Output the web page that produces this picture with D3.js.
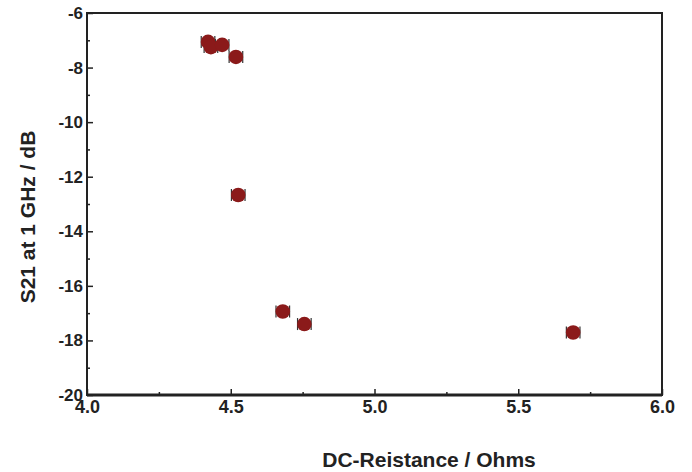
<!DOCTYPE html>
<html>
<head>
<meta charset="utf-8">
<script src="https://cdn.jsdelivr.net/npm/d3@7"></script>
<style>
  html, body { margin: 0; padding: 0; background: #fff; }
  svg { display: block; }
  text { font-family: "Liberation Sans", Arial, Helvetica, sans-serif; font-weight: bold; fill: #222; }
</style>
</head>
<body>
<svg id="chart" width="692" height="472"></svg>
<script>
const resistance = [4.421, 4.431, 4.470, 4.518, 4.526, 4.681, 4.756, 5.691];
const s21 = [-7.06, -7.25, -7.17, -7.61, -12.67, -16.94, -17.40, -17.71];
const xTicks = [4.0, 4.5, 5.0, 5.5, 6.0];
const xMinor = [4.25, 4.75, 5.25, 5.75];
const yTicks = [-6, -8, -10, -12, -14, -16, -18, -20];
const yMinor = [-7, -9, -11, -13, -15, -17, -19];
const xTitle = "DC-Reistance / Ohms";
const yTitle = "S21 at 1 GHz / dB";

const W = 692, H = 472;
const m = {left: 87, right: 30, top: 13, bottom: 77};
const svg = d3.select("#chart");
const x = d3.scaleLinear().domain([4, 6]).range([m.left, W - m.right]);
const y = d3.scaleLinear().domain([-20, -6]).range([H - m.bottom, m.top]);

const data = resistance.map((r, i) => ({r, s: s21[i]}));

// error-bar-like caps behind markers
const g = svg.append("g");
data.forEach(d => {
  [-6.8, 6.8].forEach(dx => {
    g.append("line")
      .attr("x1", x(d.r) + dx).attr("x2", x(d.r) + dx)
      .attr("y1", y(d.s) - 6).attr("y2", y(d.s) + 6)
      .attr("stroke", "#333").attr("stroke-width", 1.2);
  });
});
g.selectAll("circle").data(data).enter().append("circle")
  .attr("cx", d => x(d.r)).attr("cy", d => y(d.s)).attr("r", 7.3)
  .attr("fill", "#8b1a1a");

// axes
const xAxis = d3.axisBottom(x).tickValues(xTicks).tickSize(-6).tickPadding(5).tickFormat(d3.format(".1f"));
const xMinorAxis = d3.axisBottom(x).tickValues(xMinor).tickSize(-3).tickFormat("");
const yAxis = d3.axisLeft(y).tickValues(yTicks).tickSize(-6).tickPadding(4).tickFormat(d => d3.format("d")(d).replace("\u2212", "-"));
const yMinorAxis = d3.axisLeft(y).tickValues(yMinor).tickSize(-3).tickFormat("");

const gx = svg.append("g").attr("transform", `translate(0,${H - m.bottom})`).call(xAxis);
svg.append("g").attr("transform", `translate(0,${H - m.bottom})`).call(xMinorAxis);
const gy = svg.append("g").attr("transform", `translate(${m.left},0)`).call(yAxis);
svg.append("g").attr("transform", `translate(${m.left},0)`).call(yMinorAxis);

svg.selectAll(".domain").remove();
svg.selectAll(".tick line").attr("stroke", "#222").attr("stroke-width", 1.5);
gx.selectAll("text").style("font-size", "18px").attr("fill", "#222");
gy.selectAll("text").style("font-size", "17px").attr("fill", "#222");

// frame
svg.append("rect")
  .attr("x", m.left).attr("y", m.top)
  .attr("width", W - m.left - m.right).attr("height", H - m.top - m.bottom)
  .attr("fill", "none").attr("stroke", "#222").attr("stroke-width", 2);
svg.append("line")
  .attr("x1", m.left).attr("x2", W - m.right)
  .attr("y1", H - m.bottom).attr("y2", H - m.bottom)
  .attr("stroke", "#222").attr("stroke-width", 3);

// titles
svg.append("text").attr("x", 429).attr("y", 467)
  .attr("text-anchor", "middle").style("font-size", "21px").text(xTitle);
svg.append("text").attr("transform", `translate(35,217) rotate(-90)`)
  .attr("text-anchor", "middle").style("font-size", "21px").text(yTitle);
</script>
</body>
</html>
